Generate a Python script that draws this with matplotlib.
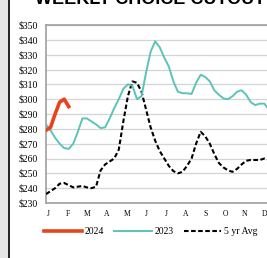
import matplotlib
matplotlib.use("Agg")
import matplotlib.pyplot as plt
from matplotlib.lines import Line2D
from matplotlib.patches import Rectangle

# weekly prices ($/cwt)
weeks = list(range(1, 53))
avg5 = [236, 238, 240, 243, 243.5, 242, 240.5, 241, 241.5, 240.5, 240, 241,
        252, 256, 258, 260, 266, 285, 302, 312, 311, 305, 293, 281, 272, 265,
        260, 255, 251.5, 250, 251, 255, 260, 270, 278, 275, 270, 263, 257, 254,
        252, 251, 253, 256, 258.5, 259, 259, 259, 260, 259, 259, 260]
y2023 = [283, 279, 274, 270, 267, 266.5, 270, 278, 287, 287, 285, 283,
         280.5, 281, 287, 294, 300, 307, 310, 309, 300, 302, 318, 332, 339, 335,
         328, 322, 312, 305, 304, 304, 303.5, 311, 316.5, 315, 312, 306, 303, 300.5,
         300, 302, 305, 306, 303, 298, 296, 297, 297, 293, 296, 298]
weeks2024 = [1, 2, 3, 4, 5, 6]
y2024 = [279, 281, 290, 298, 300, 295]

months = ["J", "F", "M", "A", "M", "J", "J", "A", "S", "O", "N", "D"]
yticks = list(range(230, 351, 10))

fig = plt.figure(figsize=(2.67, 2.58), dpi=100)
serif = "Liberation Serif"

# left frame strip of the original page
fig.patches.append(Rectangle((0, 0), 8 / 267, 1, transform=fig.transFigure,
                             color="#e6e6e6", zorder=0))
fig.lines.append(Line2D([8.5 / 267, 8.5 / 267], [0, 1], transform=fig.transFigure,
                        color="black", lw=1.2))

# title is cropped at the top of the picture
fig.text(35 / 267, 1 - 4.5 / 258, "WEEKLY CHOICE CUTOUT", ha="left", va="baseline",
         fontsize=13, fontweight="bold", family="Liberation Sans")

ax = fig.add_axes([46 / 267, 55 / 258, 232 / 267, 178 / 258])
ax.plot(weeks, avg5, color="black", lw=1.5, ls=(0, (2.2, 1.2)), label="5 yr Avg", zorder=3)
ax.plot(weeks, y2023, color="#5cc4b6", lw=1.4, label="2023", zorder=4)
ax.plot(weeks2024, y2024, color="#e8431e", lw=2.6, label="2024", zorder=5)

ax.set_xlim(1, 52)
ax.set_ylim(230, 350)
ax.set_yticks(yticks)
ax.set_yticklabels(["$%d" % v for v in yticks], family=serif, fontsize=7)
ax.set_xticks([1.45 + 4.33 * i for i in range(12)])
ax.set_xticklabels(months, family=serif, fontsize=5.5)
ax.tick_params(axis="both", length=0, pad=6)
ax.tick_params(axis="x", pad=5)
ax.grid(axis="y", color="#d4d4d4", lw=0.9)
ax.set_axisbelow(True)
for s in ["left", "bottom", "top"]:
    ax.spines[s].set_color("#a0a0a0")
    ax.spines[s].set_linewidth(1.2)
ax.spines["right"].set_visible(False)

h, l = ax.get_legend_handles_labels()
order = [2, 1, 0]
fig.legend([h[i] for i in order], [l[i] for i in order], loc="center",
           bbox_to_anchor=(0.565, 1 - 232 / 258), ncol=3, frameon=False,
           prop={"family": serif, "size": 7}, handlelength=3.9,
           columnspacing=1.0, handletextpad=0.3, borderpad=0, borderaxespad=0)

fig.savefig("out.png", dpi=100)
